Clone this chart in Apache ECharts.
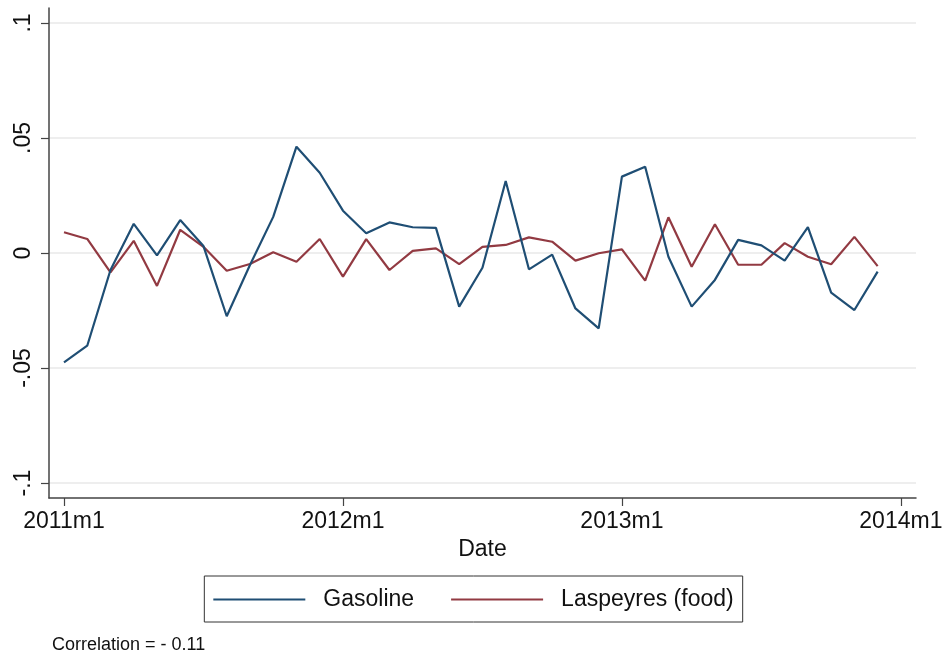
<!DOCTYPE html>
<html>
<head>
<meta charset="utf-8">
<script src="https://cdn.jsdelivr.net/npm/echarts@6/dist/echarts.min.js"></script>
<style>
  html, body { margin: 0; padding: 0; background: #fff; }
  #chart { width: 947px; height: 657px; }
</style>
</head>
<body>
<div id="chart"></div>
<script>
// Monthly changes, 2011m1 .. 2013m12 (index 0 = 2011m1)
const gasoline = [
  -0.0475, -0.0403, -0.0074, 0.0127, -0.0010, 0.0143, 0.0030, -0.0275,
  -0.0052, 0.0157, 0.0462, 0.0349, 0.0184, 0.0086, 0.0133, 0.0112,
  0.0109, -0.0233, -0.0064, 0.0313, -0.0071, -0.0007, -0.0241, -0.0328,
  0.0332, 0.0375, -0.0016, -0.0233, -0.0117, 0.0057, 0.0033, -0.0033,
  0.0112, -0.0172, -0.0248, -0.0081
];
const laspeyresFood = [
  0.0090, 0.0061, -0.0084, 0.0053, -0.0143, 0.0101, 0.0027, -0.0077,
  -0.0048, 0.0003, -0.0038, 0.0061, -0.0103, 0.0060, -0.0074, 0.0009,
  0.0020, -0.0048, 0.0027, 0.0035, 0.0068, 0.0049, -0.0033, -0.0001,
  0.0016, -0.0120, 0.0155, -0.0060, 0.0125, -0.0051, -0.0051, 0.0043,
  -0.0016, -0.0049, 0.0070, -0.0057
];
const xTickMonths = [0, 12, 24, 36];
const xTickLabels = ['2011m1', '2012m1', '2013m1', '2014m1'];
const yTicks = [-0.1, -0.05, 0, 0.05, 0.1];
const yTickLabels = ['-.1', '-.05', '0', '.05', '.1'];
const seriesNames = ['Gasoline', 'Laspeyres (food)'];
const correlationText = 'Correlation = - 0.11';

const FONT = '"Liberation Sans", Arial, Helvetica, sans-serif';
const toPairs = arr => arr.map((v, i) => [i, v]);

const chart = echarts.init(document.getElementById('chart'), null, { renderer: 'canvas' });

chart.setOption({
  animation: false,
  backgroundColor: '#ffffff',
  textStyle: { fontFamily: FONT, color: '#111' },
  grid: { left: 49, right: 31, top: 8, bottom: 159, containLabel: false },
  xAxis: {
    type: 'value',
    min: -0.645,
    max: 36.65,
    name: 'Date',
    nameLocation: 'middle',
    nameGap: 34,
    nameTextStyle: { fontSize: 23, color: '#111', fontFamily: FONT },
    axisLine: { show: true, onZero: false, lineStyle: { color: '#444', width: 1.5 } },
    axisTick: { show: true, length: 8, customValues: xTickMonths, lineStyle: { color: '#444', width: 1.2 } },
    axisLabel: {
      customValues: xTickMonths,
      margin: 12,
      fontSize: 23,
      color: '#111',
      fontFamily: FONT,
      formatter: v => xTickLabels[xTickMonths.indexOf(Math.round(v))] || ''
    },
    splitLine: { show: false }
  },
  yAxis: {
    type: 'value',
    min: -0.1065,
    max: 0.1065,
    axisLine: { show: true, onZero: false, lineStyle: { color: '#444', width: 1.5 } },
    axisTick: { show: true, length: 8, customValues: yTicks, lineStyle: { color: '#444', width: 1.2 } },
    axisLabel: {
      customValues: yTicks,
      rotate: 90,
      margin: 14,
      fontSize: 23,
      color: '#111',
      fontFamily: FONT,
      formatter: v => {
        const k = yTicks.findIndex(t => Math.abs(t - v) < 1e-9);
        return k >= 0 ? yTickLabels[k] : '';
      }
    },
    splitLine: { show: true, lineStyle: { color: '#e8e8e8', width: 1.5 } }
  },
  legend: {
    data: seriesNames,
    left: 'center',
    top: 576,
    padding: [12, 9, 11, 9],
    itemGap: 37,
    itemWidth: 92,
    itemHeight: 2,
    icon: 'rect',
    borderColor: '#333',
    borderWidth: 1,
    textStyle: { fontSize: 23, color: '#111', fontFamily: FONT, padding: [0, 0, 0, 13] }
  },
  graphic: [{
    type: 'text',
    left: 52,
    top: 636,
    style: { text: correlationText, fontSize: 18, fill: '#111', fontFamily: FONT }
  }],
  series: [
    {
      name: seriesNames[0],
      type: 'line',
      data: toPairs(gasoline),
      symbol: 'none',
      lineStyle: { color: '#1f4e74', width: 2.2 },
      itemStyle: { color: '#1f4e74' },
      z: 3
    },
    {
      name: seriesNames[1],
      type: 'line',
      data: toPairs(laspeyresFood),
      symbol: 'none',
      lineStyle: { color: '#923a42', width: 2.2 },
      itemStyle: { color: '#923a42' },
      z: 2
    }
  ]
});
</script>
</body>
</html>
